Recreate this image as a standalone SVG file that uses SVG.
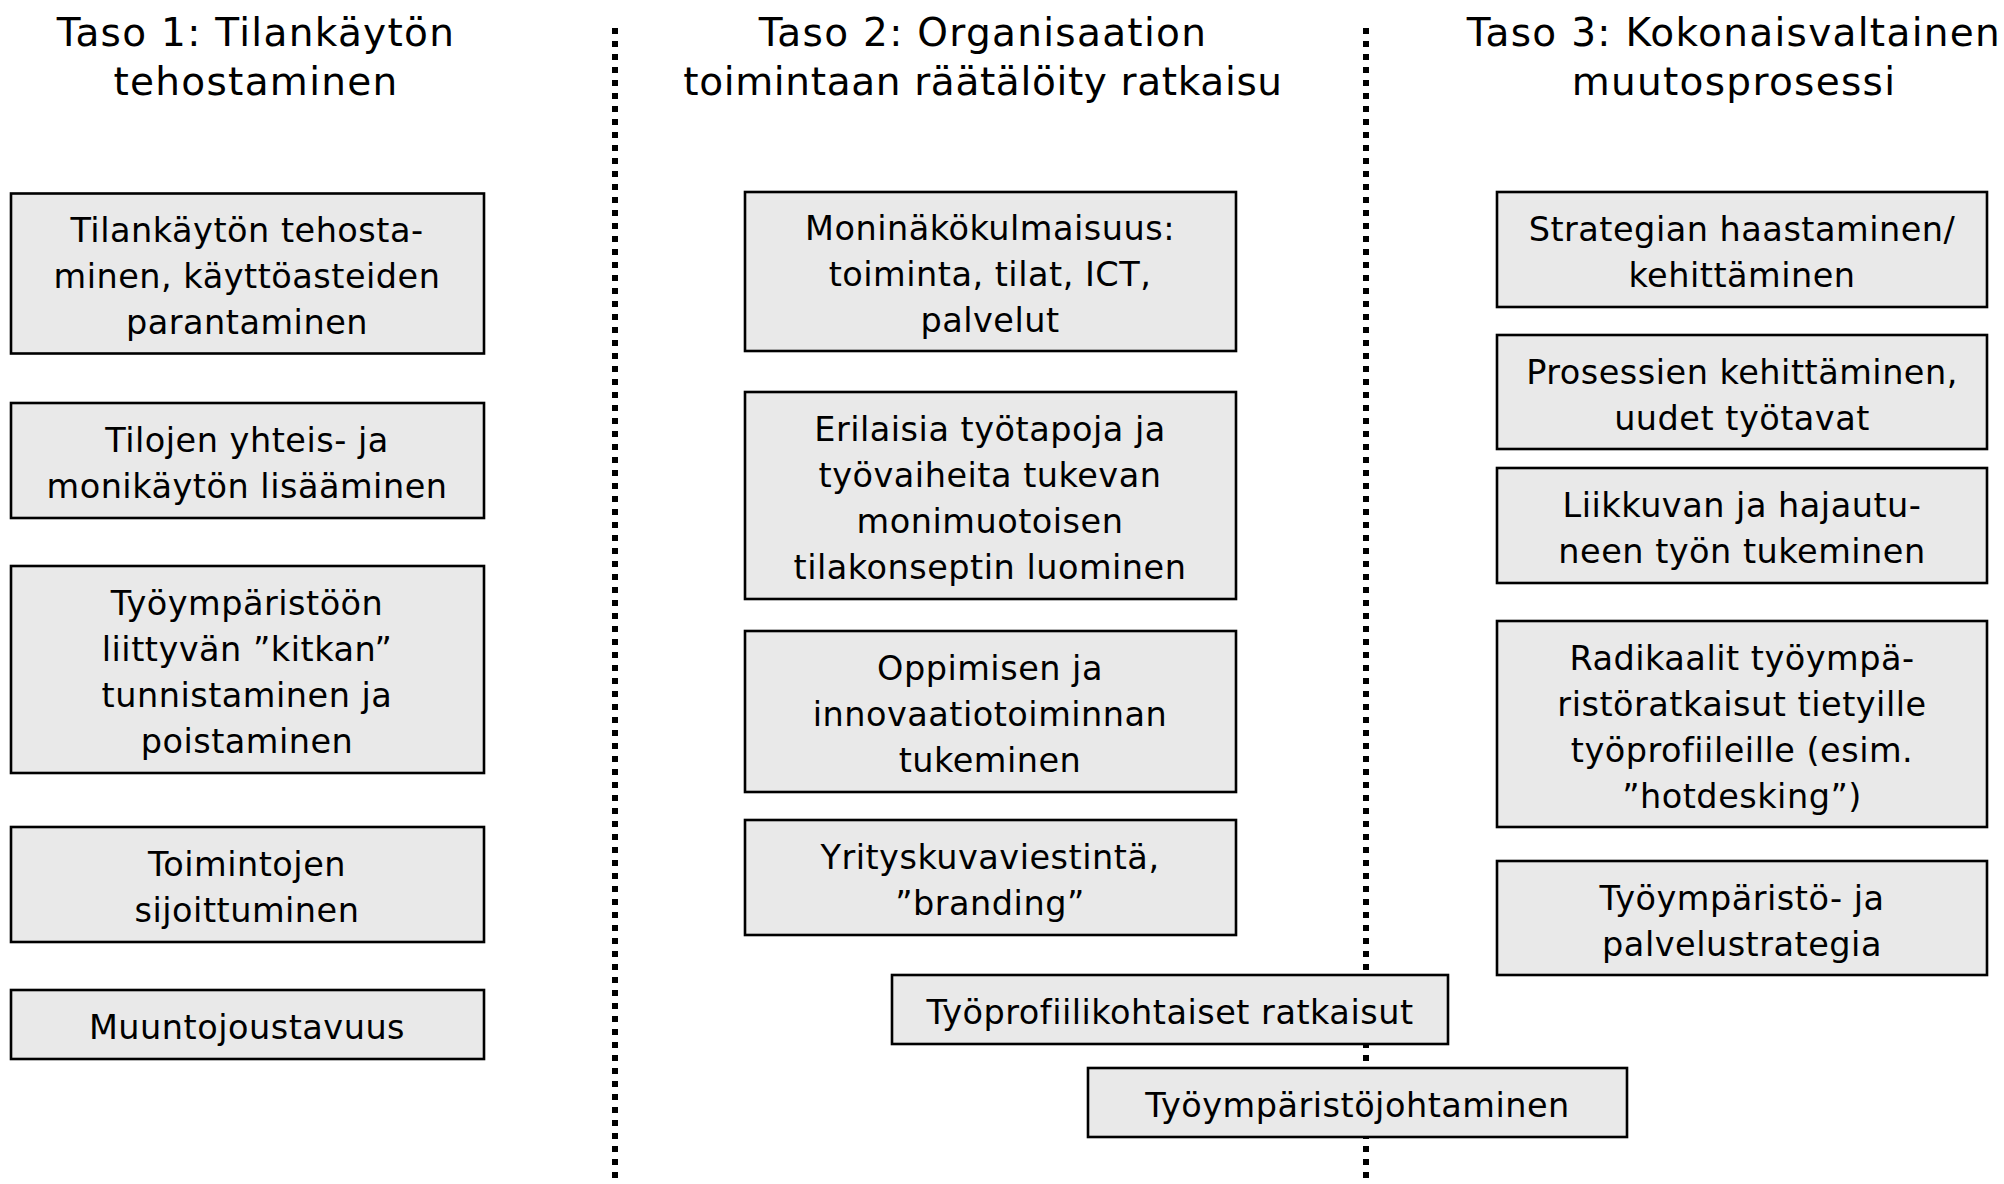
<svg xmlns="http://www.w3.org/2000/svg" width="2004" height="1184" viewBox="0 0 2004 1184">
<style>
.bg{fill:#ffffff}
.box{fill:#e9e9e9;stroke:#000;stroke-width:2.6}
.sep{stroke:#000;stroke-width:6;stroke-dasharray:6 7;fill:none}
.t{font-family:"DejaVu Sans","Verdana",sans-serif;font-size:33.5px;letter-spacing:0.5px;fill:#000;text-anchor:middle}
.h{font-family:"DejaVu Sans","Verdana",sans-serif;font-size:39px;letter-spacing:1.3px;fill:#000;text-anchor:middle}
.hn{letter-spacing:0.65px}
</style>
<rect class="bg" x="0" y="0" width="2004" height="1184"/>
<g id="connectors">
<line class="sep" x1="615" y1="28" x2="615" y2="1184"/>
<line class="sep" x1="1366" y1="28" x2="1366" y2="1184"/>
</g>
<g id="title1"><text class="h" x="256" y="46">Taso 1: Tilankäytön</text><text class="h" x="256" y="95">tehostaminen</text></g>
<g id="title2"><text class="h" x="983" y="46">Taso 2: Organisaation</text><text class="h hn" x="983" y="95">toimintaan räätälöity ratkaisu</text></g>
<g id="title3"><text class="h" x="1734" y="46">Taso 3: Kokonaisvaltainen</text><text class="h" x="1734" y="95">muutosprosessi</text></g>

<g id="b1"><rect class="box" x="11" y="193.5" width="473" height="160"/><text class="t" x="247" y="242">Tilankäytön tehosta-</text><text class="t" x="247" y="288">minen, käyttöasteiden</text><text class="t" x="247" y="334">parantaminen</text></g>
<g id="b2"><rect class="box" x="11" y="403" width="473" height="115"/><text class="t" x="247" y="452">Tilojen yhteis- ja</text><text class="t" x="247" y="498">monikäytön lisääminen</text></g>
<g id="b3"><rect class="box" x="11" y="566" width="473" height="207"/><text class="t" x="247" y="615">Työympäristöön</text><text class="t" x="247" y="661">liittyvän ”kitkan”</text><text class="t" x="247" y="707">tunnistaminen ja</text><text class="t" x="247" y="753">poistaminen</text></g>
<g id="b4"><rect class="box" x="11" y="827" width="473" height="115"/><text class="t" x="247" y="876">Toimintojen</text><text class="t" x="247" y="922">sijoittuminen</text></g>
<g id="b5"><rect class="box" x="11" y="990" width="473" height="69"/><text class="t" x="247" y="1039">Muuntojoustavuus</text></g>

<g id="c1"><rect class="box" x="745" y="192" width="491" height="159"/><text class="t" x="990" y="240">Moninäkökulmaisuus:</text><text class="t" x="990" y="286">toiminta, tilat, ICT,</text><text class="t" x="990" y="332">palvelut</text></g>
<g id="c2"><rect class="box" x="745" y="392" width="491" height="207"/><text class="t" x="990" y="441">Erilaisia työtapoja ja</text><text class="t" x="990" y="487">työvaiheita tukevan</text><text class="t" x="990" y="533">monimuotoisen</text><text class="t" x="990" y="579">tilakonseptin luominen</text></g>
<g id="c3"><rect class="box" x="745" y="631" width="491" height="161"/><text class="t" x="990" y="680">Oppimisen ja</text><text class="t" x="990" y="726">innovaatiotoiminnan</text><text class="t" x="990" y="772">tukeminen</text></g>
<g id="c4"><rect class="box" x="745" y="820" width="491" height="115"/><text class="t" x="990" y="869">Yrityskuvaviestintä,</text><text class="t" x="990" y="915">”branding”</text></g>
<g id="w1"><rect class="box" x="892" y="975" width="556" height="69"/><text class="t" x="1170" y="1024">Työprofiilikohtaiset ratkaisut</text></g>
<g id="w2"><rect class="box" x="1088" y="1068" width="539" height="69"/><text class="t" x="1357.5" y="1117">Työympäristöjohtaminen</text></g>

<g id="d1"><rect class="box" x="1497" y="192" width="490" height="115"/><text class="t" x="1742" y="241">Strategian haastaminen/</text><text class="t" x="1742" y="287">kehittäminen</text></g>
<g id="d2"><rect class="box" x="1497" y="335" width="490" height="114"/><text class="t" x="1742" y="383.5">Prosessien kehittäminen,</text><text class="t" x="1742" y="429.5">uudet työtavat</text></g>
<g id="d3"><rect class="box" x="1497" y="468" width="490" height="115"/><text class="t" x="1742" y="517">Liikkuvan ja hajautu-</text><text class="t" x="1742" y="563">neen työn tukeminen</text></g>
<g id="d4"><rect class="box" x="1497" y="621" width="490" height="206"/><text class="t" x="1742" y="669.5">Radikaalit työympä-</text><text class="t" x="1742" y="715.5">ristöratkaisut tietyille</text><text class="t" x="1742" y="761.5">työprofiileille (esim.</text><text class="t" x="1742" y="807.5">”hotdesking”)</text></g>
<g id="d5"><rect class="box" x="1497" y="861" width="490" height="114"/><text class="t" x="1742" y="910">Työympäristö- ja</text><text class="t" x="1742" y="956">palvelustrategia</text></g>
</svg>
